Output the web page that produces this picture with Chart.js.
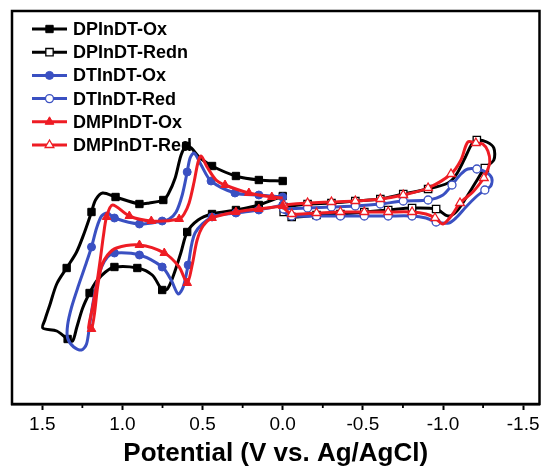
<!DOCTYPE html>
<html>
<head>
<meta charset="utf-8">
<script src="https://cdn.jsdelivr.net/npm/chart.js@4/dist/chart.umd.min.js"></script>
<style>
  html, body { margin: 0; padding: 0; background: #fff; }
  #wrap { width: 546px; height: 471px; position: relative; }
</style>
</head>
<body>
<div id="wrap"><canvas id="c" width="546" height="471"></canvas></div>
<script>
// ---------- DATA (potential in V, current in arbitrary units) ----------
const seriesNames = ["DPInDT-Ox", "DPInDT-Redn", "DTInDT-Ox", "DTInDT-Red", "DMPInDT-Ox", "DMPInDT-Red"];
const tickValues = [1.5, 1.0, 0.5, 0.0, -0.5, -1.0, -1.5];
const tickLabels = ["1.5", "1.0", "0.5", "0.0", "-0.5", "-1.0", "-1.5"];
const minorTickValues = [1.25, 0.75, 0.25, -0.25, -0.75, -1.25];

// DPInDT-Ox
const dpOxV = [0.000,0.149,0.292,0.441,0.522,0.571,0.602,0.634,0.671,0.714,0.745,0.832,0.894,1.043,1.124,1.168,1.193,1.236,1.286,1.348,1.410,1.453,1.484,1.497,1.410,1.342,1.311,1.286,1.248,1.205,1.161,1.106,1.050,0.907,0.814,0.752,0.720,0.683,0.634,0.596,0.528,0.441,0.292,0.149,0.000];
const dpOxI = [22.3,22.4,22.8,23.8,24.7,25.6,25.8,24.9,22.6,21.0,20.4,20.1,20.0,20.7,21.1,20.4,19.2,17.2,15.2,13.6,12.0,9.9,8.4,7.6,7.3,6.5,6.3,7.6,9.6,11.1,12.3,13.2,13.7,13.6,12.9,11.4,11.5,12.8,15.2,17.2,18.4,19.0,19.4,19.9,20.8];
const dpOxM = [1,1,1,1,0,0,1,0,0,0,1,0,1,1,0,0,1,0,0,1,0,0,0,0,0,1,0,0,0,1,0,0,1,1,0,1,0,0,0,1,0,1,1,1,1];

// DPInDT-Redn
const dpRedV = [-0.006,-0.155,-0.304,-0.453,-0.609,-0.752,-0.907,-1.031,-1.081,-1.137,-1.180,-1.211,-1.273,-1.317,-1.317,-1.261,-1.205,-1.143,-1.081,-1.031,-0.957,-0.807,-0.658,-0.509,-0.360,-0.211,-0.056,-0.006];
const dpRedI = [19.7,20.0,20.1,20.3,20.5,21.0,21.5,22.1,22.9,24.6,26.0,26.4,26.2,25.6,24.4,23.6,22.2,20.6,19.2,18.8,19.5,19.6,19.4,19.2,19.0,18.9,18.7,19.2];
const dpRedM = [1,1,1,1,1,1,1,0,0,0,0,1,0,0,0,1,0,0,0,0,1,1,1,1,1,1,1,1];

// DTInDT-Ox
const dtOxV = [0.000,0.149,0.298,0.447,0.509,0.553,0.578,0.596,0.627,0.665,0.708,0.752,0.894,1.050,1.093,1.130,1.161,1.193,1.230,1.273,1.317,1.342,1.342,1.304,1.255,1.224,1.205,1.186,1.161,1.130,1.093,1.050,0.894,0.752,0.696,0.652,0.621,0.590,0.547,0.441,0.292,0.149,0.000];
const dtOxI = [20.7,20.9,21.1,22.3,23.9,25.1,24.6,23.2,20.9,19.2,18.5,18.3,18.0,18.6,19.1,18.8,17.6,15.7,13.9,11.9,9.7,7.9,6.6,5.7,5.4,6.0,7.9,9.9,12.0,13.7,14.7,15.1,14.9,13.7,12.4,11.0,11.7,13.9,17.1,18.7,19.1,19.4,19.9];
const dtOxM = [1,1,1,1,0,0,0,1,0,0,0,1,1,1,0,0,0,1,0,0,0,0,0,0,0,0,0,0,0,0,0,1,1,1,0,0,0,1,0,1,1,1,1];

// DTInDT-Red
const dtRedV = [-0.006,-0.155,-0.304,-0.453,-0.609,-0.752,-0.907,-1.000,-1.056,-1.112,-1.155,-1.211,-1.267,-1.304,-1.298,-1.261,-1.205,-1.143,-1.087,-1.037,-0.957,-0.894,-0.807,-0.658,-0.509,-0.360,-0.211,-0.056,-0.006];
const dtRedI = [19.5,19.6,19.7,19.8,20.0,20.3,20.4,20.9,21.9,23.0,23.5,23.5,23.2,22.6,21.8,21.4,20.7,19.7,18.7,18.1,18.2,18.6,18.8,18.8,18.8,18.8,18.8,18.8,19.2];
const dtRedM = [1,1,1,1,1,1,1,0,1,0,0,1,0,0,0,1,0,0,0,0,1,0,1,1,1,1,1,1,0];

// DMPInDT-Ox
const dmpOxV = [0.000,0.068,0.211,0.360,0.416,0.472,0.509,0.528,0.553,0.584,0.615,0.646,0.820,0.957,1.062,1.099,1.118,1.137,1.161,1.186,1.211,1.193,1.174,1.155,1.130,1.093,1.037,0.894,0.739,0.646,0.596,0.565,0.534,0.497,0.441,0.292,0.149,0.000];
const dmpOxI = [20.6,20.7,21.1,21.9,22.4,23.7,24.8,24.2,22.2,20.1,19.0,18.5,18.3,18.8,19.9,18.7,16.9,14.6,11.9,9.7,7.6,7.5,9.1,11.7,13.8,14.9,15.6,15.9,15.1,13.7,12.1,13.9,16.4,17.8,18.6,19.2,19.5,19.8];
const dmpOxM = [0,1,1,1,0,0,0,0,0,0,0,1,1,1,0,1,0,0,0,0,0,1,0,0,0,0,0,1,1,0,1,0,0,0,1,1,1,1];

// DMPInDT-Red
const dmpRedV = [-0.006,-0.155,-0.304,-0.453,-0.609,-0.752,-0.907,-1.050,-1.112,-1.155,-1.205,-1.248,-1.280,-1.292,-1.273,-1.255,-1.186,-1.106,-1.056,-1.000,-0.950,-0.894,-0.807,-0.658,-0.509,-0.360,-0.211,-0.056,-0.006];
const dmpRedI = [19.9,20.1,20.2,20.3,20.5,20.9,21.6,23.0,24.4,26.2,26.1,26.0,25.3,24.2,23.2,22.6,21.2,20.1,18.9,18.0,18.6,19.0,19.2,19.2,19.2,19.2,19.1,19.0,19.6];
const dmpRedM = [1,1,1,1,1,1,1,1,0,0,1,0,0,0,0,1,0,1,0,0,1,0,1,1,1,1,1,1,0];

// ---------- STYLE ----------
const BLACK = '#000000', BLUE = '#3a50c2', RED = '#ee1c24';
const FONT = '"Liberation Sans", Arial, Helvetica, sans-serif';

function pts(v, i) { return v.map((x, k) => ({ x: x, y: i[k] })); }

const specs = [
  { name: seriesNames[0], v: dpOxV,  i: dpOxI,  m: dpOxM,  color: BLACK, style: 'rect',     open: false, order: 2, r: 5.2 },
  { name: seriesNames[1], v: dpRedV, i: dpRedI, m: dpRedM, color: BLACK, style: 'rect',     open: true,  order: 2, r: 5.2 },
  { name: seriesNames[2], v: dtOxV,  i: dtOxI,  m: dtOxM,  color: BLUE,  style: 'circle',   open: false, order: 1, r: 4 },
  { name: seriesNames[3], v: dtRedV, i: dtRedI, m: dtRedM, color: BLUE,  style: 'circle',   open: true,  order: 1, r: 4 },
  { name: seriesNames[4], v: dmpOxV, i: dmpOxI, m: dmpOxM, color: RED,   style: 'triangle', open: false, order: 0, r: 5 },
  { name: seriesNames[5], v: dmpRedV,i: dmpRedI,m: dmpRedM,color: RED,   style: 'triangle', open: true,  order: 0, r: 5 }
];

const datasets = specs.map(s => ({
  label: s.name,
  data: pts(s.v, s.i),
  showLine: true,
  borderColor: s.color,
  borderWidth: 3,
  tension: 0.3,
  fill: false,
  order: s.order,
  pointStyle: s.style,
  pointRadius: s.m.map(f => f ? s.r : 0),
  pointHoverRadius: s.m.map(f => f ? s.r : 0),
  pointBackgroundColor: s.open ? '#ffffff' : s.color,
  pointBorderColor: s.open ? s.color : s.color,
  pointBorderWidth: s.open ? 1.3 : 1
}));

function drawMarker(ctx, style, x, y, r, color, open) {
  ctx.save();
  ctx.beginPath();
  if (style === 'rect') {
    const h = r * Math.SQRT1_2;
    ctx.rect(x - h, y - h, 2 * h, 2 * h);
  } else if (style === 'circle') {
    ctx.arc(x, y, r, 0, Math.PI * 2);
  } else {
    const a = r * 1.5 / Math.sqrt(3) * Math.sqrt(3);
    ctx.moveTo(x, y - r);
    ctx.lineTo(x + r * Math.cos(Math.PI / 6), y + r * 0.5);
    ctx.lineTo(x - r * Math.cos(Math.PI / 6), y + r * 0.5);
    ctx.closePath();
  }
  ctx.fillStyle = open ? '#ffffff' : color;
  ctx.fill();
  ctx.lineWidth = open ? 1.3 : 1;
  ctx.strokeStyle = color;
  ctx.stroke();
  ctx.restore();
}

const framePlugin = {
  id: 'frame',
  afterDatasetsDraw(chart) {
    const { ctx, chartArea: a, scales } = chart;
    ctx.save();
    ctx.strokeStyle = '#000';
    ctx.lineWidth = 2.5;
    ctx.strokeRect(a.left, a.top, a.right - a.left, a.bottom - a.top);
    // minor ticks
    ctx.lineWidth = 1.8;
    minorTickValues.forEach(v => {
      const px = scales.x.getPixelForValue(v);
      ctx.beginPath();
      ctx.moveTo(px, a.bottom);
      ctx.lineTo(px, a.bottom + 4);
      ctx.stroke();
    });
    // legend
    const x0 = 32, x1 = 67, tx = 73, y0 = 29, dy = 23.2;
    ctx.font = 'bold 18px ' + FONT;
    ctx.textBaseline = 'middle';
    ctx.textAlign = 'left';
    specs.forEach((s, k) => {
      const y = y0 + k * dy;
      ctx.beginPath();
      ctx.strokeStyle = s.color;
      ctx.lineWidth = 3;
      ctx.moveTo(x0, y);
      ctx.lineTo(x1, y);
      ctx.stroke();
      drawMarker(ctx, s.style, (x0 + x1) / 2, y, s.r, s.color, s.open);
      ctx.fillStyle = '#000';
      ctx.fillText(s.name, tx, y + 1);
    });
    ctx.restore();
  }
};

new Chart(document.getElementById('c'), {
  type: 'scatter',
  data: { datasets },
  plugins: [framePlugin],
  options: {
    responsive: false,
    animation: false,
    layout: { padding: { left: 12, right: 4, top: 11, bottom: 0 } },
    plugins: { legend: { display: false }, tooltip: { enabled: false } },
    scales: {
      x: {
        type: 'linear',
        reverse: true,
        min: -1.602,
        max: 1.689,
        afterBuildTicks: s => { s.ticks = tickValues.map(v => ({ value: v })); },
        afterFit: s => { s.height = 67; },
        ticks: {
          callback: (v, idx) => tickLabels[idx],
          font: { family: FONT, size: 19 },
          color: '#000',
          padding: 3,
          maxRotation: 0,
          autoSkip: false
        },
        grid: { display: true, drawOnChartArea: false, drawTicks: true, tickLength: 6, tickWidth: 2, tickColor: '#000' },
        border: { display: true, color: '#000', width: 2.5 },
        title: {
          display: true,
          text: 'Potential (V vs. Ag/AgCl)',
          font: { family: FONT, size: 26, weight: 'bold' },
          color: '#000',
          padding: { top: 0, bottom: 2 }
        }
      },
      y: {
        type: 'linear',
        display: false,
        min: 0,
        max: 39.3
      }
    }
  }
});
</script>
</body>
</html>
